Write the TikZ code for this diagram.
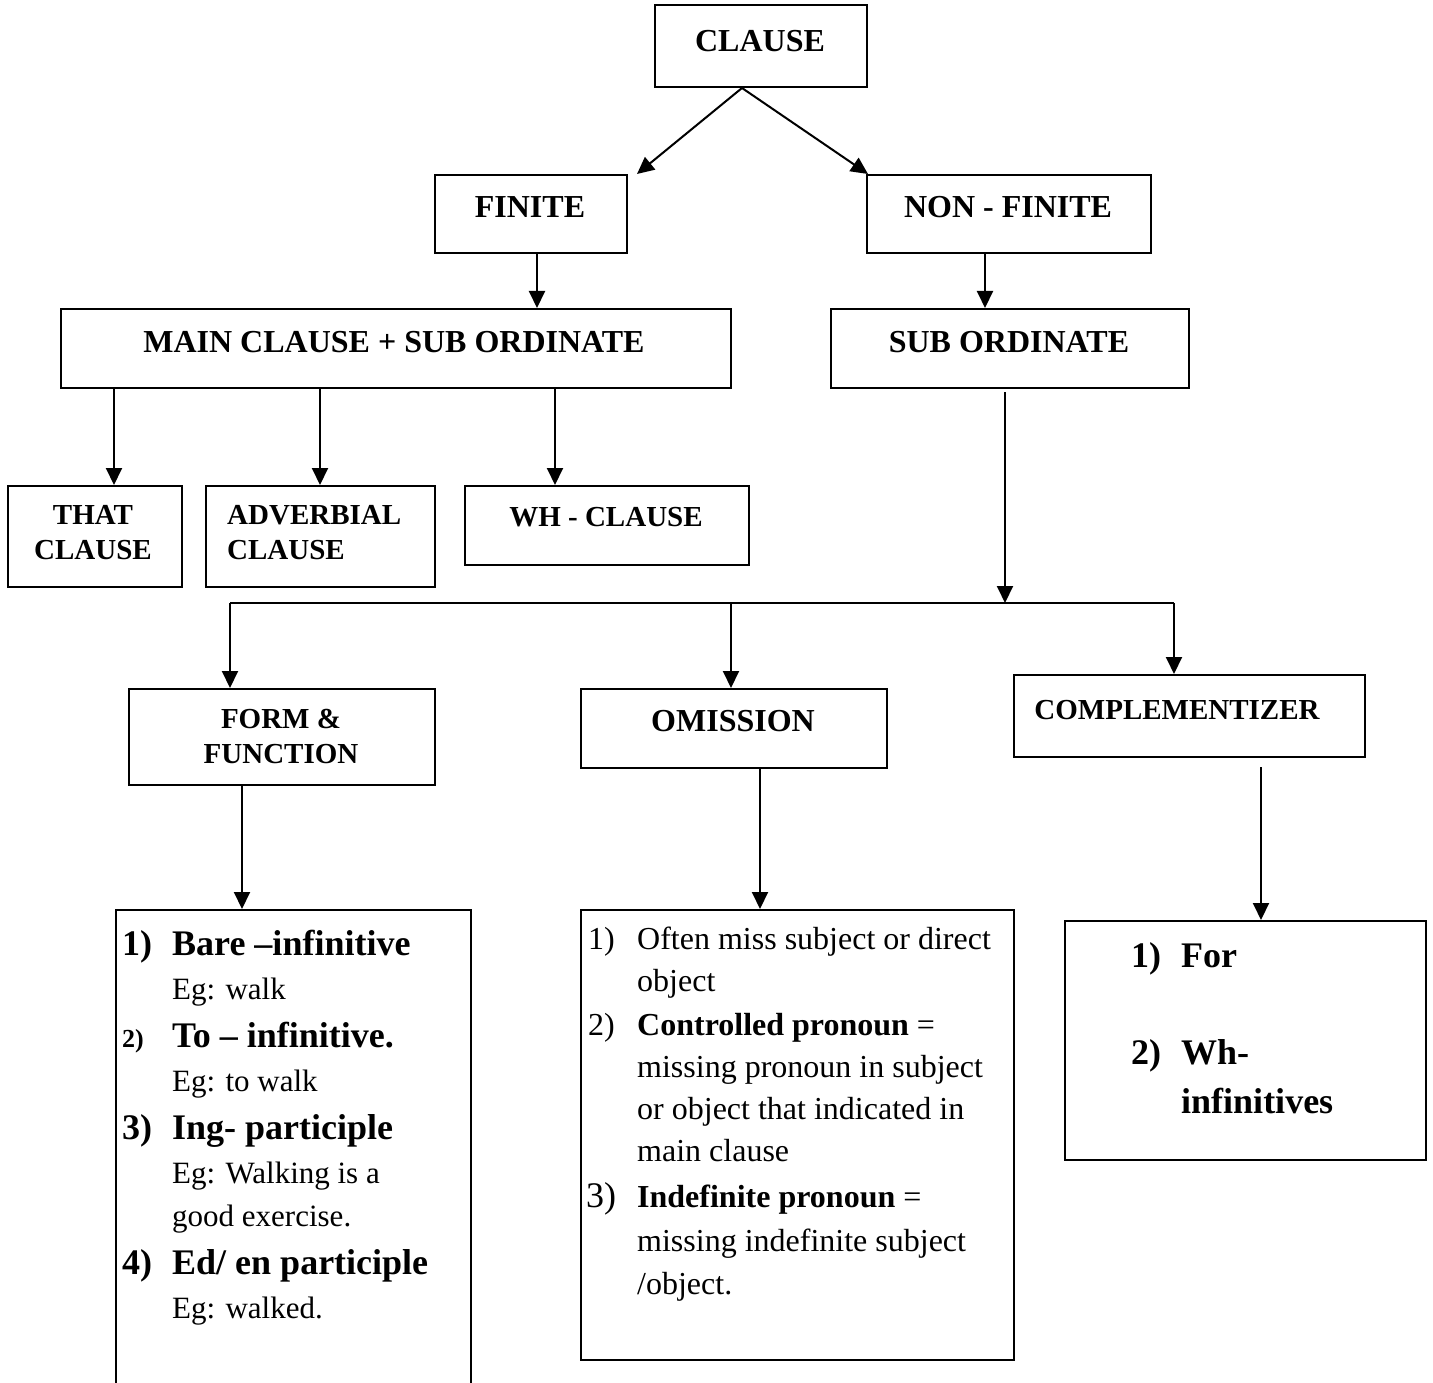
\documentclass[tikz,border=0pt]{standalone}
\usepackage{fontspec}
\setmainfont{Liberation Serif}
\usetikzlibrary{arrows.meta,calc}
\newcommand{\fsz}[1]{\fontsize{#1}{#1}\selectfont}

\begin{document}
\begin{tikzpicture}[x=1pt,y=-1pt,
  box/.style={draw, line width=2pt, inner sep=0pt, anchor=north west},
  link/.style={line width=2pt, -{Triangle[length=17pt,width=16pt]}},
  head/.style={font=\fsz{32}\bfseries, inner sep=0pt, anchor=base},
  subhead/.style={font=\fsz{29}\bfseries, inner sep=0pt, anchor=base},
  subheadw/.style={font=\fsz{29}\bfseries, inner sep=0pt, anchor=base west},
  txt/.style={font=\fsz{31}, inner sep=0pt, anchor=base west},
  bigtxt/.style={font=\fsz{36}\bfseries, inner sep=0pt, anchor=base west},
  otxt/.style={font=\fsz{32}, inner sep=0pt, anchor=base west}]

\useasboundingbox (0,0) rectangle (1433,1383);

% ---- boxes ----
\node[box, minimum width=212pt, minimum height=82pt] (clause) at (654,4) {};
\node[box, minimum width=192pt, minimum height=78pt] (finite) at (434,174) {};
\node[box, minimum width=284pt, minimum height=78pt] (nonfinite) at (866,174) {};
\node[box, minimum width=670pt, minimum height=79pt] (main) at (60,308) {};
\node[box, minimum width=358pt, minimum height=79pt] (sub) at (830,308) {};
\node[box, minimum width=174pt, minimum height=101pt] (that) at (7,485) {};
\node[box, minimum width=229pt, minimum height=101pt] (adverb) at (205,485) {};
\node[box, minimum width=284pt, minimum height=79pt] (wh) at (464,485) {};
\node[box, minimum width=306pt, minimum height=96pt] (form) at (128,688) {};
\node[box, minimum width=306pt, minimum height=79pt] (omit) at (580,688) {};
\node[box, minimum width=351pt, minimum height=82pt] (compl) at (1013,674) {};
\node[box, minimum width=355pt, minimum height=520pt] (formlist) at (115,909) {};
\node[box, minimum width=433pt, minimum height=450pt] (omitlist) at (580,909) {};
\node[box, minimum width=361pt, minimum height=239pt] (compllist) at (1064,920) {};

% ---- box titles ----
\node[head] (tclause) at (760,52) {CLAUSE};
\node[head] (tfinite) at (530,218) {FINITE};
\node[head] (tnonfinite) at (1008,218) {NON - FINITE};
\node[head] (tmain) at (394,352) {MAIN CLAUSE + SUB ORDINATE};
\node[head] (tsub) at (1009,352) {SUB ORDINATE};
\node[subhead] (tthat1) at (93,524) {THAT};
\node[subhead] (tthat2) at (93,559) {CLAUSE};
\node[subheadw] (tadv1) at (227,524) {ADVERBIAL};
\node[subheadw] (tadv2) at (227,559) {CLAUSE};
\node[subhead] (twh) at (606,526) {WH - CLAUSE};
\node[subhead] (tform1) at (281,728) {FORM \&};
\node[subhead] (tform2) at (281,763) {FUNCTION};
\node[head] (tomit) at (733,731) {OMISSION};
\node[subhead] (tcompl) at (1177,719) {COMPLEMENTIZER};

% ---- form and function list ----
\node[bigtxt] (fn1) at (122,955) {1)};
\node[bigtxt] (fi1) at (172,955) {Bare –infinitive};
\node[txt] (fe1) at (172,999) {Eg: walk};
\node[font=\fsz{26}\bfseries, inner sep=0pt, anchor=base west] (fn2) at (122,1047) {2)};
\node[bigtxt] (fi2) at (172,1047) {To – infinitive.};
\node[txt] (fe2) at (172,1091) {Eg: to walk};
\node[bigtxt] (fn3) at (122,1139) {3)};
\node[bigtxt] (fi3) at (172,1139) {Ing- participle};
\node[txt] (fe3a) at (172,1183) {Eg: Walking is a};
\node[txt] (fe3b) at (172,1226) {good exercise.};
\node[bigtxt] (fn4) at (122,1274) {4)};
\node[bigtxt] (fi4) at (172,1274) {Ed/ en participle};
\node[txt] (fe4) at (172,1318) {Eg: walked.};

% ---- omission list ----
\node[otxt] (on1) at (588,949) {1)};
\node[otxt] (ol1) at (637,949) {Often miss subject or direct};
\node[otxt] (ol2) at (637,991) {object};
\node[otxt] (on2) at (588,1035) {2)};
\node[otxt] (ol3) at (637,1035) {\textbf{Controlled pronoun} =};
\node[otxt] (ol4) at (637,1077) {missing pronoun in subject};
\node[otxt] (ol5) at (637,1119) {or object that indicated in};
\node[otxt] (ol6) at (637,1161) {main clause};
\node[font=\fsz{36}, inner sep=0pt, anchor=base west] (on3) at (586,1207) {3)};
\node[otxt] (ol7) at (637,1207) {\textbf{Indefinite pronoun} =};
\node[otxt] (ol8) at (637,1251) {missing indefinite subject};
\node[otxt] (ol9) at (637,1294) {/object.};

% ---- complementizer list ----
\node[bigtxt] (cn1) at (1131,967) {1)};
\node[bigtxt] (cl1) at (1181,967) {For};
\node[bigtxt] (cn2) at (1131,1064) {2)};
\node[bigtxt] (cl2) at (1181,1064) {Wh-};
\node[bigtxt] (cl3) at (1181,1113) {infinitives};

% ---- connector positions ----
\coordinate (apex) at (742,88);
\coordinate (xf) at (537,0);
\coordinate (xn) at (985,0);
\coordinate (xt) at (114,0);
\coordinate (xa) at (320,0);
\coordinate (xw) at (555,0);
\coordinate (xs) at (1005,0);
\coordinate (busIn) at (1005,603);
\coordinate (busL) at (230,603);
\coordinate (busM) at (731,603);
\coordinate (busR) at (1174,603);
\coordinate (xfl) at (242,0);
\coordinate (xol) at (760,0);
\coordinate (complOut) at (1261,767);

% ---- connectors ----
\draw[link] (apex) -- ([xshift=106pt]finite.north);
\draw[link] (apex) -- ([xshift=2pt]nonfinite.north west);
\draw[link] (finite.south -| xf) -- (main.north -| xf);
\draw[link] (nonfinite.south -| xn) -- (sub.north -| xn);
\draw[link] (main.south -| xt) -- (that.north -| xt);
\draw[link] (main.south -| xa) -- (adverb.north -| xa);
\draw[link] (main.south -| xw) -- (wh.north -| xw);
\draw[link] ([yshift=-3pt]sub.south -| xs) -- (busIn);
\draw[line width=2pt] (busL) -- (busR);
\draw[link] (busL) -- (form.north -| busL);
\draw[link] (busM) -- (omit.north -| busM);
\draw[link] (busR) -- (compl.north -| busR);
\draw[link] (form.south -| xfl) -- (formlist.north -| xfl);
\draw[link] (omit.south -| xol) -- (omitlist.north -| xol);
\draw[link] (complOut) -- (compllist.north -| complOut);

\end{tikzpicture}
\end{document}
